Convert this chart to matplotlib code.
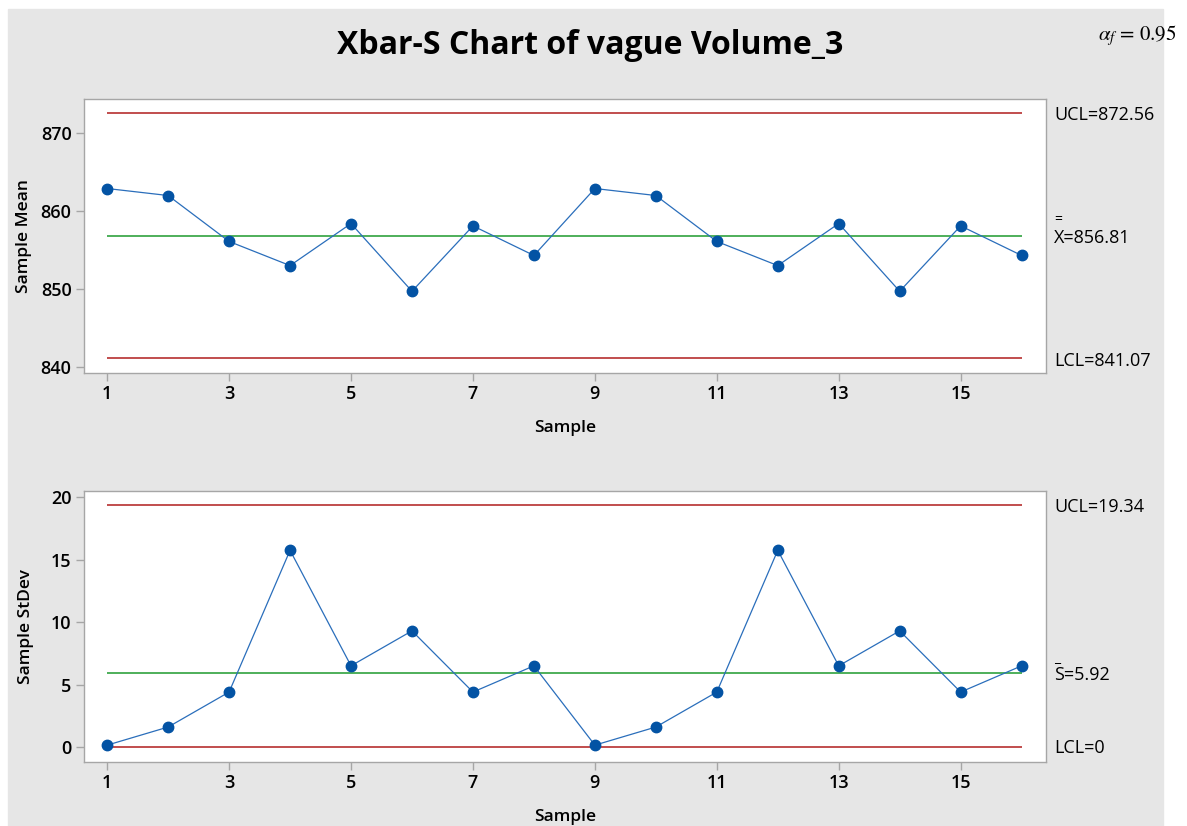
import matplotlib
matplotlib.use('Agg')
import matplotlib.pyplot as plt
from matplotlib.patches import Rectangle
import numpy as np

plt.rcParams['font.family'] = ['Open Sans', 'DejaVu Sans']
plt.rcParams['mathtext.fontset'] = 'stix'

# data
samples = list(range(1, 17))
sample_mean = [862.9, 862.0, 856.1, 853.0, 858.4, 849.7, 858.1, 854.3,
               862.9, 862.0, 856.1, 853.0, 858.4, 849.7, 858.1, 854.3]
sample_sd = [0.15, 1.6, 4.4, 15.75, 6.5, 9.3, 4.4, 6.5,
             0.15, 1.6, 4.4, 15.75, 6.5, 9.3, 4.4, 6.5]
xbar_limits = {'UCL': 872.56, 'CL': 856.81, 'LCL': 841.07}
s_limits = {'UCL': 19.34, 'CL': 5.92, 'LCL': 0.0}
xticks = [1, 3, 5, 7, 9, 11, 13, 15]

W, H = 1187, 826
fig = plt.figure(figsize=(W / 100, H / 100), dpi=100)
fig.patch.set_facecolor('white')
fig.patches.append(Rectangle((8 / W, 0), (1163 - 8) / W, 1 - 9 / H,
                             transform=fig.transFigure, color='#e6e6e6', zorder=-10))

red = '#b01c1c'
green = '#1e9a2e'
blue_line = '#2a6ebb'
blue_dot = '#0353a4'
spine_col = '#a6a6a6'


def style_ax(ax):
    ax.set_facecolor('white')
    for s in ax.spines.values():
        s.set_color(spine_col)
        s.set_linewidth(1.0)
    ax.tick_params(axis='both', direction='out', length=6, width=1,
                   color=spine_col, labelsize=13, pad=3)
    ax.set_xticks(xticks)
    ax.set_xlim(0.62, 16.4)
    for lab in ax.get_xticklabels() + ax.get_yticklabels():
        lab.set_fontweight('semibold')


def draw(ax, vals, lims):
    ax.hlines(lims['UCL'], 1, 16, color=red, lw=1.1)
    ax.hlines(lims['LCL'], 1, 16, color=red, lw=1.1)
    ax.hlines(lims['CL'], 1, 16, color=green, lw=1.1)
    ax.plot(samples, vals, color=blue_line, lw=0.9, marker='o', ms=7.5,
            mfc=blue_dot, mec=blue_dot, zorder=5)


ax1 = fig.add_axes([84 / W, 1 - 373 / H, (1046 - 84) / W, (373 - 99) / H])
draw(ax1, sample_mean, xbar_limits)
ax1.set_ylim(839.2, 874.4)
ax1.set_yticks([840, 850, 860, 870])
style_ax(ax1)
ax1.set_xlabel('Sample', fontsize=12.5, fontweight='semibold', labelpad=12)
ax1.set_ylabel('Sample Mean', fontsize=12.5, fontweight='semibold', labelpad=6)

ax2 = fig.add_axes([84 / W, 1 - 762 / H, (1046 - 84) / W, (762 - 491) / H])
draw(ax2, sample_sd, s_limits)
ax2.set_ylim(-1.2, 20.5)
ax2.set_yticks([0, 5, 10, 15, 20])
style_ax(ax2)
ax2.set_xlabel('Sample', fontsize=12.5, fontweight='semibold', labelpad=12)
ax2.set_ylabel('Sample StDev', fontsize=12.5, fontweight='semibold', labelpad=12)

# limit labels on the right
lx = 1054 / W
tkw = dict(fontsize=13, va='center', ha='left', transform=fig.transFigure)
fig.text(lx, 1 - 115 / H, 'UCL=%.2f' % xbar_limits['UCL'], **tkw)
fig.text(lx, 1 - 238 / H, 'X=%.2f' % xbar_limits['CL'], **tkw)
fig.text(lx + 0.5 / W, 1 - 219 / H, '=', fontsize=10, va='center', ha='left')
fig.text(lx, 1 - 361 / H, 'LCL=%.2f' % xbar_limits['LCL'], **tkw)
fig.text(lx, 1 - 507 / H, 'UCL=%.2f' % s_limits['UCL'], **tkw)
fig.text(lx, 1 - 675 / H, 'S=%.2f' % s_limits['CL'], **tkw)
fig.text(lx + 0.5 / W, 1 - 658 / H, '_', fontsize=10, va='center', ha='left')
fig.text(lx, 1 - 748 / H, 'LCL=%g' % s_limits['LCL'], **tkw)

fig.text(590 / W, 1 - 45 / H, 'Xbar-S Chart of vague Volume_3', fontsize=23,
         fontweight='bold', ha='center', va='center')

fig.text(1177 / W, 1 - 36 / H, r'$\alpha_f$ = 0.95', fontsize=15,
         family='STIXGeneral', ha='right', va='center')

fig.savefig('out.png', dpi=100)
